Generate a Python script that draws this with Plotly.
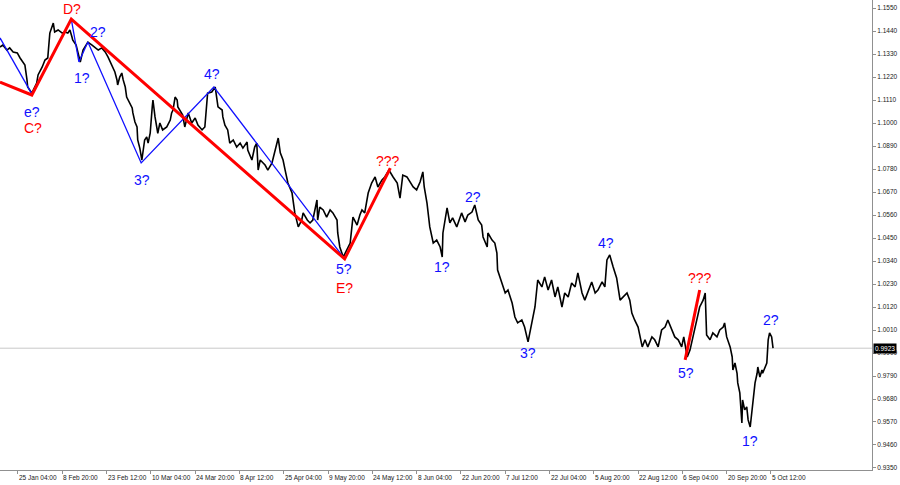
import plotly.graph_objects as go

# EUR/USD, H4 bars. Positions are bar numbers counted from the left edge.
price_bar = [
    0, 4, 10, 14, 19, 25, 29, 33, 36, 39, 40, 46, 48, 53, 55, 61, 65, 69, 72, 75,
    77, 79, 84, 90, 94, 98, 101, 104, 105, 110, 113, 116, 120, 127, 133, 137, 142, 147, 152, 156,
    159, 163, 166, 169, 170, 173, 176, 178, 181, 183, 185, 188, 191, 192, 195, 198, 199, 202, 205, 209,
    212, 214, 217, 220, 221, 224, 227, 228, 231, 235, 241, 246, 248, 250, 253, 256, 257, 260,
    264, 267, 272, 277, 282, 286, 292, 296, 299, 300, 306, 311, 313, 315, 321, 322, 325, 329, 332, 337,
    342, 347, 351, 357, 358, 364, 368, 371, 373, 376, 383, 387, 393, 397, 402, 405, 409, 412, 416, 422,
    426, 431, 436, 438, 444, 448, 452, 458, 459, 462, 467, 472, 477, 481, 487, 488, 491, 496, 501, 506,
    510, 516,
    520, 523, 527, 532, 537, 542, 546, 552, 556, 562, 568, 574, 578, 582, 588, 592, 597, 602, 607, 611,
    613, 617, 621, 626, 631, 636, 639, 640, 646, 650, 654, 660, 667, 672, 676, 682, 686, 691, 696, 698,
    704, 705, 711, 715, 718, 719, 725, 730, 734, 740, 744, 748, 754, 758, 763, 769, 773, 777,
    783, 787, 792, 797, 802, 806, 812, 816, 821, 826, 831, 835, 841, 845, 849, 855, 860, 864, 870, 874,
    877, 881, 886, 891, 896, 900, 906, 910, 913, 917, 922, 928, 932, 936, 942, 946, 951, 956, 961, 965,
    971, 975, 980, 985, 988, 993, 997, 1001, 1007, 1011, 1016, 1019, 1021, 1026, 1030, 1036,
    1040, 1045, 1047, 1050, 1055, 1058, 1059, 1062, 1065, 1066, 1069, 1072, 1073, 1076, 1079, 1081, 1084, 1086,
    1088, 1091, 1094, 1095, 1098, 1101, 1102, 1105, 1108, 1110, 1112, 1115, 1117,
]
price_close = [
    1.1363, 1.1373, 1.1349, 1.1359, 1.1340, 1.1335, 1.1311, 1.1292, 1.1277, 1.1206, 1.1172, 1.1143, 1.1158, 1.1191, 1.1230, 1.1268, 1.1301, 1.1311, 1.1430, 1.1459,
    1.1478, 1.1435, 1.1445, 1.1430, 1.1435, 1.1430, 1.1445, 1.1411, 1.1397, 1.1373, 1.1335, 1.1292, 1.1349, 1.1387, 1.1373, 1.1363, 1.1349, 1.1359, 1.1340, 1.1316,
    1.1292, 1.1268, 1.1244, 1.1206, 1.1182, 1.1220, 1.1239, 1.1206, 1.1172, 1.1124, 1.1110, 1.1096, 1.1072, 1.1048, 1.1005, 1.0981, 1.0919, 1.0880, 1.0823, 1.0919,
    1.0933, 1.0904, 1.0951, 1.1077, 1.1110, 1.1029, 1.0981, 1.0951, 1.1000, 1.0967, 1.0981, 1.1014, 1.1048, 1.1062, 1.1124, 1.1110, 1.1077, 1.1062,
    1.1038, 1.0981, 1.1048, 1.1000, 1.1024, 1.0990, 1.0967, 1.0981, 1.1077, 1.1143, 1.1148, 1.1172, 1.1124, 1.1077, 1.1062, 1.1029, 1.0990, 1.0967, 1.0904, 1.0919,
    1.0885, 1.0904, 1.0880, 1.0909, 1.0871, 1.0823, 1.0885, 1.0904, 1.0775, 1.0823, 1.0799, 1.0775, 1.0809, 1.0857, 1.0928, 1.0857, 1.0823, 1.0775, 1.0713, 1.0665,
    1.0570, 1.0503, 1.0536, 1.0570, 1.0536, 1.0522, 1.0536, 1.0632, 1.0536, 1.0598, 1.0584, 1.0550, 1.0584, 1.0570, 1.0536, 1.0474, 1.0407, 1.0359, 1.0393, 1.0426,
    1.0550, 1.0512,
    1.0560, 1.0584, 1.0570, 1.0665, 1.0713, 1.0742, 1.0694, 1.0728, 1.0742, 1.0775, 1.0742, 1.0713, 1.0641, 1.0751, 1.0742, 1.0718, 1.0694, 1.0680, 1.0718, 1.0766,
    1.0694, 1.0617, 1.0503, 1.0426, 1.0440, 1.0407, 1.0359, 1.0474, 1.0594, 1.0522, 1.0546, 1.0503, 1.0570, 1.0527, 1.0560, 1.0574, 1.0608, 1.0536, 1.0512, 1.0455,
    1.0407, 1.0474, 1.0440, 1.0426, 1.0378, 1.0297, 1.0235, 1.0187, 1.0201, 1.0139, 1.0072, 1.0044, 1.0058, 1.0024, 0.9953, 1.0058, 1.0120, 1.0249,
    1.0216, 1.0264, 1.0201, 1.0249, 1.0168, 1.0216, 1.0120, 1.0187, 1.0168, 1.0235, 1.0216, 1.0283, 1.0187, 1.0153, 1.0187, 1.0240, 1.0187, 1.0201, 1.0240, 1.0216,
    1.0345, 1.0369, 1.0311, 1.0259, 1.0153, 1.0168, 1.0187, 1.0153, 1.0091, 1.0058, 1.0024, 0.9929, 0.9963, 0.9929, 0.9977, 0.9963, 0.9929, 1.0010, 1.0024, 1.0058,
    1.0010, 0.9977, 0.9963, 0.9929, 0.9977, 0.9881, 0.9914, 0.9977, 1.0058, 1.0120, 1.0153, 1.0187, 0.9986, 0.9963, 0.9996, 0.9977,
    1.0010, 1.0024, 1.0044, 0.9977, 0.9929, 0.9881, 0.9819, 0.9852, 0.9803, 0.9757, 0.9709, 0.9565, 0.9675, 0.9628, 0.9642, 0.9580, 0.9546, 0.9613,
    0.9690, 0.9757, 0.9803, 0.9833, 0.9785, 0.9819, 0.9803, 0.9833, 0.9852, 0.9963, 0.9996, 0.9977, 0.9923,
]
last_price = 0.9923

# Wave markup: red = larger degree, blue = smaller degree
red_wave_bar = [0, 46, 103, 498, 564]
red_wave_price = [1.1196, 1.1134, 1.1497, 1.0350, 1.0784]
red_wave2_bar = [990, 1011]
red_wave2_price = [0.9867, 1.0201]
blue_lead_bar = [0, 46]
blue_lead_price = [1.1407, 1.1139]
blue_wave_bar = [103, 114, 127, 204, 309, 498]
blue_wave_price = [1.1497, 1.1292, 1.1387, 1.0809, 1.1172, 1.0350]

# Wave labels
label_text = ["D?", "2?", "1?", "e?", "C?", "3?", "4?", "5?", "E?", "???",
              "1?", "2?", "3?", "4?", "???", "5?", "1?", "2?"]
label_bar = [104, 142, 118, 46, 48, 205, 306, 497, 498, 561,
             639, 683, 763, 875, 1011, 991, 1084, 1114]
label_price = [1.1545, 1.1435, 1.1215, 1.1055, 1.0976, 1.0728, 1.1234, 1.0300, 1.0213, 1.0818,
               1.0311, 1.0646, 0.9900, 1.0426, 1.0259, 0.9804, 0.9479, 1.0058]
label_color = ["red", "blue", "blue", "blue", "red", "blue", "blue", "blue", "red", "red",
               "blue", "blue", "blue", "blue", "red", "blue", "blue", "blue"]

# Time axis: a label every 64 H4 bars
time_tick_bar = [-38, 26, 90, 154, 218, 282, 346, 410, 474, 538, 602, 666, 730, 794, 858, 922, 986, 1050, 1114]
time_tick_text = ["10 Jan 12:00", "25 Jan 04:00", "8 Feb 20:00", "23 Feb 12:00", "10 Mar 04:00",
                  "24 Mar 20:00", "8 Apr 12:00", "25 Apr 04:00", "9 May 20:00", "24 May 12:00",
                  "8 Jun 04:00", "22 Jun 20:00", "7 Jul 12:00", "22 Jul 04:00", "5 Aug 20:00",
                  "22 Aug 12:00", "6 Sep 04:00", "20 Sep 20:00", "5 Oct 12:00"]

price_ticks = [0.9350, 0.9460, 0.9570, 0.9680, 0.9790, 0.9900, 1.0010, 1.0120, 1.0230, 1.0340,
               1.0450, 1.0560, 1.0670, 1.0780, 1.0890, 1.1000, 1.1110, 1.1220, 1.1330, 1.1440, 1.1550]

FONT = "Liberation Sans, Arial, sans-serif"
BLUE = "#1010ff"
RED = "#ff0000"

fig = go.Figure()

# current price line
fig.add_trace(go.Scatter(x=[0, 1260], y=[last_price, last_price], mode="lines",
                         line=dict(color="#c8c8c8", width=1), hoverinfo="skip"))

fig.add_trace(go.Scatter(x=price_bar, y=price_close, mode="lines",
                         line=dict(color="black", width=1.6)))

fig.add_trace(go.Scatter(x=blue_lead_bar, y=blue_lead_price, mode="lines",
                         line=dict(color=BLUE, width=1.3)))
fig.add_trace(go.Scatter(x=blue_wave_bar, y=blue_wave_price, mode="lines",
                         line=dict(color=BLUE, width=1.3)))
fig.add_trace(go.Scatter(x=red_wave_bar, y=red_wave_price, mode="lines",
                         line=dict(color=RED, width=3)))
fig.add_trace(go.Scatter(x=red_wave2_bar, y=red_wave2_price, mode="lines",
                         line=dict(color=RED, width=3)))

annotations = []
for t, b, p, c in zip(label_text, label_bar, label_price, label_color):
    annotations.append(dict(x=b, y=p, xref="x", yref="y", text=t, showarrow=False,
                            borderpad=0,
                            font=dict(family=FONT, size=14, color=BLUE if c == "blue" else RED)))

for b, t in zip(time_tick_bar, time_tick_text):
    annotations.append(dict(x=b, y=0, xref="x", yref="paper", text=t, showarrow=False,
                            xanchor="left", yanchor="top", yshift=-2, xshift=-1,
                            font=dict(family=FONT, size=6.5, color="#202020")))

# last price tag on the price scale
annotations.append(dict(x=1, y=last_price, xref="paper", yref="y", text=str(last_price),
                        showarrow=False, xanchor="left", yanchor="middle", xshift=1,
                        bgcolor="black", borderpad=1,
                        font=dict(family=FONT, size=6.5, color="white")))

fig.update_layout(
    width=900, height=485,
    margin=dict(l=0, r=28, t=0, b=15),
    paper_bgcolor="white", plot_bgcolor="white",
    showlegend=False,
    annotations=annotations,
    xaxis=dict(range=[0, 1260], showgrid=False, zeroline=False, showline=True,
               linecolor="#909090", linewidth=1, ticks="outside", ticklen=3, tickcolor="#909090",
               tickvals=time_tick_bar[1:], showticklabels=False, fixedrange=True),
    yaxis=dict(range=[0.93404, 1.15883], side="right", showgrid=False, zeroline=False,
               showline=True, linecolor="#909090", linewidth=1, ticks="outside", ticklen=3,
               tickcolor="#909090", tickvals=price_ticks, tickformat=".4f",
               tickfont=dict(family=FONT, size=6.5, color="#202020"), fixedrange=True),
)

fig.write_html("out.html")
